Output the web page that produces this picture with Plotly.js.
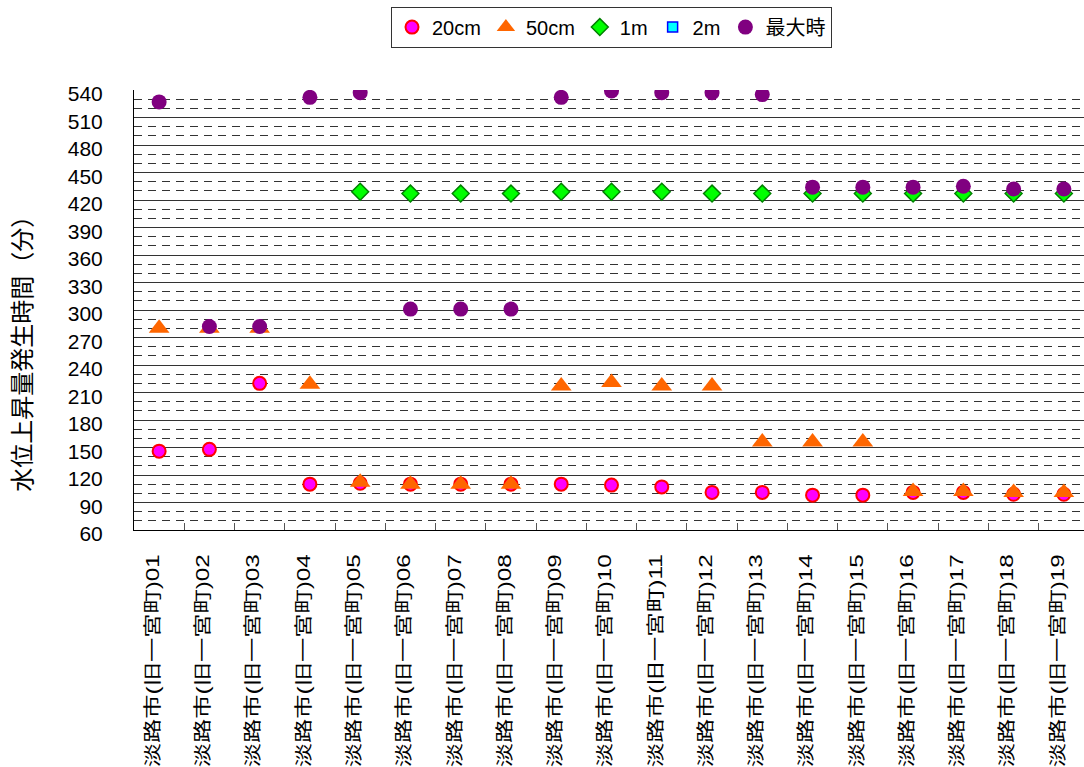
<!DOCTYPE html>
<html>
<head>
<meta charset="utf-8">
<script src="https://cdn.plot.ly/plotly-3.0.1.min.js"></script>
<style>
  html, body { margin: 0; padding: 0; background: #fff; overflow: hidden; }
  #chart { width: 1092px; height: 767px; }
</style>
</head>
<body>
<div id="chart"></div>
<script>
// 観測地点
const sites = [
  '淡路市(旧一宮町)01', '淡路市(旧一宮町)02', '淡路市(旧一宮町)03', '淡路市(旧一宮町)04',
  '淡路市(旧一宮町)05', '淡路市(旧一宮町)06', '淡路市(旧一宮町)07', '淡路市(旧一宮町)08',
  '淡路市(旧一宮町)09', '淡路市(旧一宮町)10', '淡路市(旧一宮町)11', '淡路市(旧一宮町)12',
  '淡路市(旧一宮町)13', '淡路市(旧一宮町)14', '淡路市(旧一宮町)15', '淡路市(旧一宮町)16',
  '淡路市(旧一宮町)17', '淡路市(旧一宮町)18', '淡路市(旧一宮町)19'
];

// 水位上昇量ごとの発生時間（分）
const rise20cm = [146, 148, 220, 110, 111, 110, 110, 110, 110, 109, 107, 101, 101, 98, 98, 101, 101, 99, 99];
const rise50cm = [280, 280, 280, 219, 112, 110, 110, 110, 217, 221, 217, 217, 156, 156, 156, 102, 102, 101, 101];
const rise1m   = [null, null, null, null, 429, 427, 427, 427, 429, 429, 429, 427, 427, 427, 427, 427, 427, 427, 427];
const rise2m   = [null, null, null, null, null, null, null, null, null, null, null, null, null, null, null, null, null, null, null];
const riseMax  = [527, 282, 282, 532, 537, 301, 301, 301, 532, 539, 537, 537, 535, 434, 434, 434, 435, 432, 432];

const yTicks = [60, 90, 120, 150, 180, 210, 240, 270, 300, 330, 360, 390, 420, 450, 480, 510, 540];

const fontFamily = '"Liberation Sans", Arial, "Noto Sans CJK JP", sans-serif';
// 地点名ラベルの表示長（px）
const siteLabelLength = 213;

const traces = [
  {
    name: '20cm', x: sites, y: rise20cm, type: 'scatter', mode: 'markers',
    marker: { symbol: 'circle', size: 13, color: '#FF00FF', line: { color: '#FF0000', width: 2 } }
  },
  {
    name: '50cm', x: sites, y: rise50cm, type: 'scatter', mode: 'markers',
    marker: { symbol: 'triangle-up', size: 18, color: '#FF6600', line: { color: '#FF6600', width: 0 } }
  },
  {
    name: '1m', x: sites, y: rise1m, type: 'scatter', mode: 'markers',
    marker: { symbol: 'diamond', size: 13, color: '#00FF00', line: { color: '#008000', width: 1.5 } }
  },
  {
    name: '2m', x: sites, y: rise2m, type: 'scatter', mode: 'markers',
    marker: { symbol: 'square', size: 10, color: '#00FFFF', line: { color: '#0000FF', width: 1.5 } }
  },
  {
    name: '最大時', x: sites, y: riseMax, type: 'scatter', mode: 'markers',
    marker: { symbol: 'circle', size: 15, color: '#800080', line: { color: '#800080', width: 0 } }
  }
];

const layout = {
  width: 1092,
  height: 767,
  margin: { l: 134, r: 3, t: 90, b: 237 },
  paper_bgcolor: '#ffffff',
  plot_bgcolor: '#ffffff',
  font: { family: fontFamily, size: 20, color: '#000' },
  showlegend: true,
  legend: {
    orientation: 'h',
    x: 0.5, xanchor: 'center',
    y: 1.143, yanchor: 'middle',
    bgcolor: '#ffffff',
    bordercolor: '#333333',
    borderwidth: 1,
    font: { family: fontFamily, size: 20, color: '#000' },
    itemwidth: 30,
    traceorder: 'normal'
  },
  xaxis: {
    type: 'category',
    categoryorder: 'array',
    categoryarray: sites,
    range: [-0.5, sites.length - 0.5],
    autorange: false,
    showline: true,
    linecolor: '#000',
    linewidth: 1,
    showgrid: false,
    zeroline: false,
    ticks: 'inside',
    tickson: 'boundaries',
    ticklen: 7,
    tickcolor: '#555',
    tickwidth: 1,
    tickangle: -90,
    tickfont: { family: fontFamily, size: 18, color: '#000' },
    ticklabelstandoff: 16,
    ticklabelshift: -6
  },
  yaxis: {
    range: [60, 540],
    autorange: false,
    tickmode: 'array',
    tickvals: yTicks,
    ticktext: yTicks.map(String),
    showline: true,
    linecolor: '#000',
    linewidth: 1,
    showgrid: true,
    gridcolor: '#333333',
    gridwidth: 1,
    zeroline: false,
    ticks: '',
    tickfont: { family: fontFamily, size: 21, color: '#000' },
    ticklabelstandoff: 26,
    ticklabelshift: 4,
    minor: {
      dtick: 10,
      tick0: 60,
      showgrid: true,
      gridcolor: '#333333',
      gridwidth: 1,
      griddash: '8px,6px',
      ticks: ''
    }
  },
  annotations: [
    {
      text: '水位上昇量発生時間（分）',
      xref: 'paper', yref: 'paper',
      x: -0.117, y: 0.415,
      xanchor: 'center', yanchor: 'middle',
      textangle: -90,
      showarrow: false,
      font: { family: fontFamily, size: 24, color: '#000' }
    }
  ]
};

Plotly.newPlot('chart', traces, layout, { displayModeBar: false, staticPlot: true }).then(function (gd) {
  // 縦書きの地点名を一定の長さに揃える
  gd.querySelectorAll('.xtick text').forEach(function (t) {
    t.setAttribute('textLength', siteLabelLength);
    t.setAttribute('lengthAdjust', 'spacingAndGlyphs');
  });
});
</script>
</body>
</html>
